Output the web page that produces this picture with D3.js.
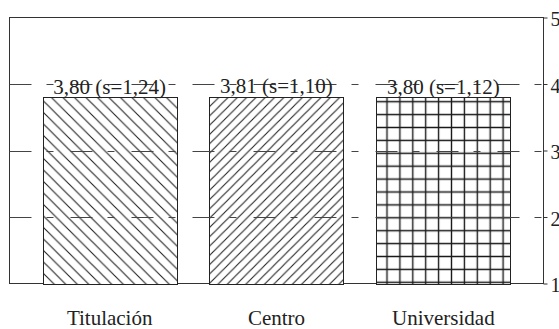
<!DOCTYPE html>
<html>
<head>
<meta charset="utf-8">
<script src="https://cdn.jsdelivr.net/npm/d3@7"></script>
<style>
  html, body { margin: 0; padding: 0; background: #fff; }
  svg { display: block; }
</style>
</head>
<body>
<svg id="chart" width="559" height="329"></svg>
<script>
const categories = ["Titulación", "Centro", "Universidad"];
const means = [3.80, 3.81, 3.80];
const sds = [1.24, 1.10, 1.12];
const yTicks = [1, 2, 3, 4, 5];
const gridValues = [2, 3, 4];
const patterns = ["hatchBack", "hatchFwd", "grid"];

const FONT = "'Liberation Serif'";
const plotL = 9.5, plotR = 543.5, plotT = 17.5, plotB = 283.5;

const svg = d3.select("#chart").attr("font-family", FONT);
const loc = d3.formatLocale({decimal: ",", thousands: ".", grouping: [3], currency: ["", "€"]});
const f2 = loc.format(".2f");

const x = d3.scaleBand().domain(categories).range([plotL, plotR])
  .paddingInner(0.195).paddingOuter(0.198).align(0.5);
const y = d3.scaleLinear().domain([1, 5]).range([plotB, plotT]);

const defs = svg.append("defs");
{
  const s = 11.5;
  const p = defs.append("pattern").attr("id", "hatchBack").attr("patternUnits", "userSpaceOnUse")
    .attr("width", s).attr("height", s).attr("x", 0).attr("y", 0);
  p.append("rect").attr("width", s).attr("height", s).attr("fill", "#fff");
  p.append("path").attr("d", `M0,0L${s},${s}M${-s/2},${s/2}L${s/2},${s*1.5}M${s/2},${-s/2}L${s*1.5},${s/2}`)
    .attr("stroke", "#222").attr("stroke-width", 1.1).attr("fill", "none");
}
{
  const s = 9.3;
  const p = defs.append("pattern").attr("id", "hatchFwd").attr("patternUnits", "userSpaceOnUse")
    .attr("width", s).attr("height", s).attr("x", 0).attr("y", 0);
  p.append("rect").attr("width", s).attr("height", s).attr("fill", "#fff");
  p.append("path").attr("d", `M0,${s}L${s},0M${-s/2},${s/2}L${s/2},${-s/2}M${s/2},${s*1.5}L${s*1.5},${s/2}`)
    .attr("stroke", "#222").attr("stroke-width", 1.1).attr("fill", "none");
}
{
  const s = 12.9;
  const p = defs.append("pattern").attr("id", "grid").attr("patternUnits", "userSpaceOnUse")
    .attr("width", s).attr("height", s).attr("x", 387 - s / 2).attr("y", 101.7 - s / 2);
  p.append("rect").attr("width", s).attr("height", s).attr("fill", "#fff");
  p.append("path").attr("d", `M${s/2},0V${s}M0,${s/2}H${s}`)
    .attr("stroke", "#1a1a1a").attr("stroke-width", 1.4).attr("fill", "none");
}

// frame
svg.append("rect").attr("x", plotL).attr("y", plotT)
  .attr("width", plotR - plotL).attr("height", plotB - plotT)
  .attr("fill", "none").attr("stroke", "#333").attr("stroke-width", 1);

// bars
svg.append("g").selectAll("rect").data(categories).join("rect")
  .attr("x", d => Math.round(x(d)) + 0.5)
  .attr("y", (d, i) => Math.round(y(means[i])) + 0.5)
  .attr("width", Math.round(x.bandwidth()))
  .attr("height", (d, i) => Math.round(y(1)) - Math.round(y(means[i])))
  .attr("fill", (d, i) => `url(#${patterns[i]})`)
  .attr("stroke", "#222").attr("stroke-width", 1);

// gridlines (dashed)
svg.append("g").selectAll("line").data(gridValues).join("line")
  .attr("x1", plotL).attr("x2", plotR)
  .attr("y1", d => Math.round(y(d)) + 0.5).attr("y2", d => Math.round(y(d)) + 0.5)
  .attr("stroke", "#444").attr("stroke-width", 1)
  .attr("stroke-dasharray", "22,15,7,17");

// value labels
svg.append("g").selectAll("text").data(categories).join("text")
  .attr("x", d => x(d) + x.bandwidth() / 2)
  .attr("y", (d, i) => y(means[i]) - 3.7)
  .attr("text-anchor", "middle")
  .attr("font-size", 21)
  .attr("font-family", FONT)
  .attr("fill", "#222")
  .text((d, i) => `${f2(means[i])} (s=${f2(sds[i])})`);

// right axis
const ax = svg.append("g").attr("transform", `translate(${plotR},0)`)
  .call(d3.axisRight(y).tickValues(yTicks).tickFormat(d3.format("d")).tickSize(4).tickPadding(3));
ax.attr("font-family", FONT).attr("font-size", 20);
ax.select(".domain").remove();
ax.selectAll(".tick line").attr("stroke", "#333");
ax.selectAll(".tick text").attr("dy", "0.42em").attr("fill", "#222");

// category labels
svg.append("g").selectAll("text").data(categories).join("text")
  .attr("x", d => x(d) + x.bandwidth() / 2)
  .attr("y", 325)
  .attr("text-anchor", "middle")
  .attr("font-size", 21)
  .attr("font-family", FONT)
  .attr("fill", "#222")
  .text(d => d);
</script>
</body>
</html>
